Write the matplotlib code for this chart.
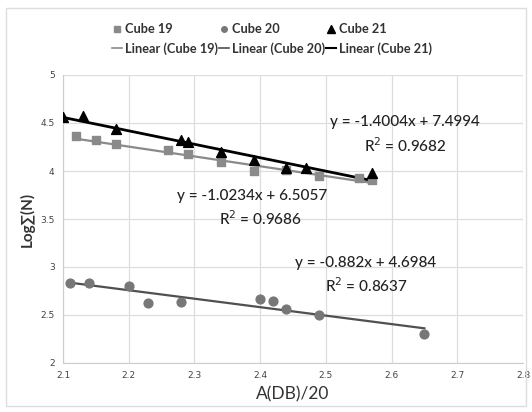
import matplotlib
matplotlib.use("Agg")
import matplotlib.pyplot as plt
import numpy as np
from matplotlib.lines import Line2D

plt.rcParams['font.family'] = ['Lato', 'DejaVu Sans']

# Data
x19 = [2.12, 2.15, 2.18, 2.26, 2.29, 2.34, 2.39, 2.44, 2.49, 2.55, 2.57]
y19 = [4.36, 4.32, 4.28, 4.22, 4.18, 4.09, 4.00, 4.01, 3.95, 3.93, 3.91]
x20 = [2.11, 2.14, 2.20, 2.23, 2.28, 2.40, 2.42, 2.44, 2.49, 2.65]
y20 = [2.83, 2.83, 2.80, 2.63, 2.64, 2.67, 2.65, 2.56, 2.50, 2.30]
x21 = [2.10, 2.13, 2.18, 2.28, 2.29, 2.34, 2.39, 2.44, 2.47, 2.57]
y21 = [4.56, 4.57, 4.44, 4.32, 4.30, 4.20, 4.11, 4.03, 4.03, 3.98]

# Trendline coefficients (slope, intercept) and R^2 as labelled
fit19 = (-1.0234, 6.5057, 0.9686)
fit20 = (-0.882, 4.6984, 0.8637)
fit21 = (-1.4004, 7.4994, 0.9682)

xticks = [2.1, 2.2, 2.3, 2.4, 2.5, 2.6, 2.7, 2.8]
yticks = [2, 2.5, 3, 3.5, 4, 4.5, 5]

fig = plt.figure(figsize=(5.32, 4.12), dpi=100)
ax = fig.add_axes([63/532, 1-363/412, (523-63)/532, (363-75)/412])

c19, c20, c21 = '#8a8a8a', '#777777', '#000000'
l19, l20, l21 = '#8a8a8a', '#505050', '#000000'

def trend(xs, fit, color, lw):
    xx = np.array([min(xs), max(xs)])
    ax.plot(xx, fit[0]*xx + fit[1], color=color, lw=lw, zorder=2)

trend(x19, fit19, l19, 1.6)
trend(x20, fit20, l20, 1.6)
trend(x21, fit21, l21, 2.0)

ax.scatter(x19, y19, marker='s', s=30, color=c19, zorder=3)
ax.scatter(x20, y20, marker='o', s=40, color=c20, zorder=3)
ax.scatter(x21, y21, marker='^', s=50, color=c21, zorder=4)

ax.set_xlim(2.1, 2.8)
ax.set_ylim(2, 5)
ax.set_xticks(xticks)
ax.set_yticks(yticks)
ax.set_xticklabels([str(t) for t in xticks])
ax.set_yticklabels([('%g' % t) for t in yticks])
ax.tick_params(length=0, labelsize=7, labelcolor='#444444', pad=6)
for lab in ax.get_xticklabels() + ax.get_yticklabels():
    lab.set_fontfamily(['DejaVu Sans'])
    lab.set_fontsize(6.5)
ax.grid(True, color='#dddddd', lw=0.9)
ax.set_axisbelow(True)
for s in ['top', 'right']:
    ax.spines[s].set_visible(False)
for s in ['left', 'bottom']:
    ax.spines[s].set_color('#cccccc')

ax.set_xlabel('A(DB)/20', fontsize=12.5, color='#333333', labelpad=4)
ax.set_ylabel('Log∑(N)', fontsize=11, color='#333333', labelpad=4, fontweight='bold')

tk = dict(fontsize=11, color='#222222', ha='center', va='center', transform=fig.transFigure,
          fontweight='medium')
def eqtext(xc, yc, fit, dy):
    a, b, r2 = fit
    fig.text(xc/532, 1-yc/412, 'y = %gx + %g' % (a, b), **tk)
    fig.text((xc+dy[0])/532, 1-(yc+dy[1])/412, 'R$^2$ = %g' % r2, **tk)

eqtext(405, 122, fit21, (0, 24))
eqtext(252, 196, fit19, (8, 23))
eqtext(366, 263, fit20, (0, 23))

handles = [
    Line2D([], [], marker='s', ls='none', color=c19, markersize=4),
    Line2D([], [], color=l19, lw=1.2),
    Line2D([], [], marker='o', ls='none', color=c20, markersize=4),
    Line2D([], [], color=l20, lw=1.2),
    Line2D([], [], marker='^', ls='none', color=c21, markersize=6),
    Line2D([], [], color=l21, lw=1.5),
]
labels = ['Cube 19', 'Linear (Cube 19)', 'Cube 20', 'Linear (Cube 20)', 'Cube 21', 'Linear (Cube 21)']
leg = fig.legend(handles, labels, ncol=3, loc='center', bbox_to_anchor=(272/532, 1-39/412),
                 frameon=False, fontsize=9.2, handlelength=0.8, handletextpad=0.2,
                 columnspacing=0.1, labelspacing=0.5)
for t in leg.get_texts():
    t.set_color('#333333')
    t.set_fontweight('bold')

# outer border
fig.patches.append(plt.Rectangle((6/532, 6/412), 1-12/532, 1-14/412, transform=fig.transFigure,
                                 fill=False, ec='#dddddd', lw=1))

fig.savefig('out.png', dpi=100)
